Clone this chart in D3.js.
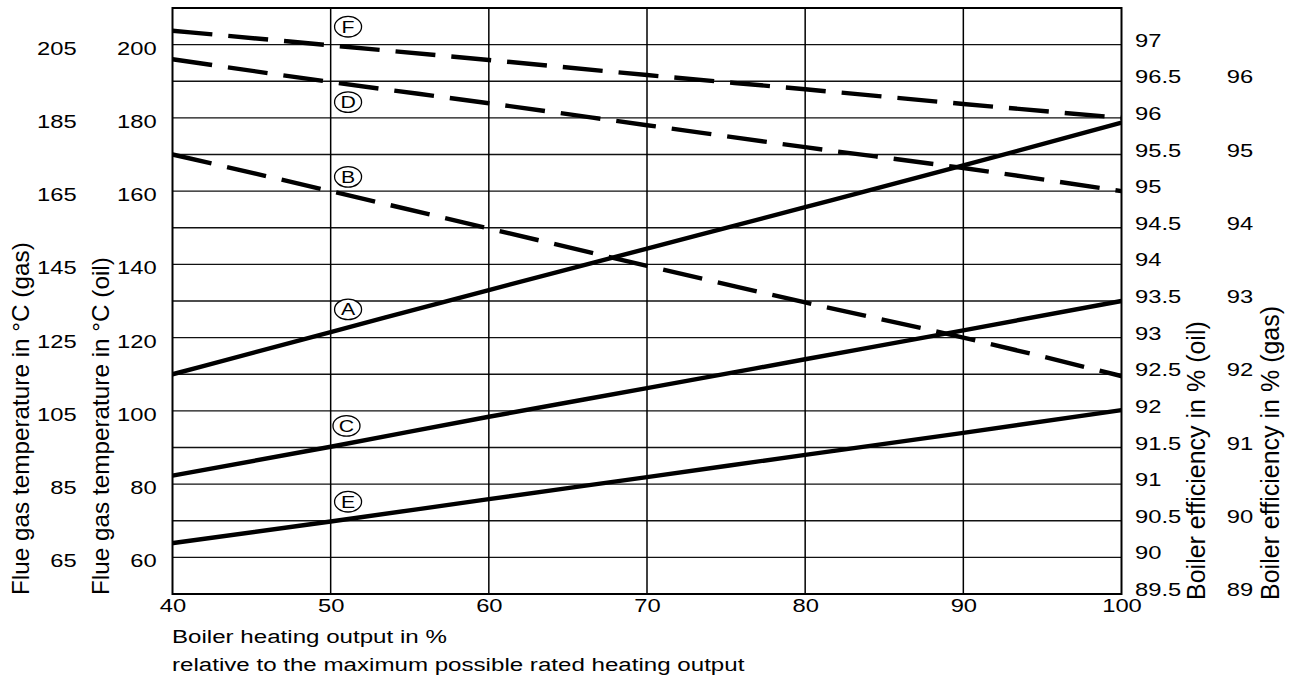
<!DOCTYPE html>
<html><head><meta charset="utf-8">
<script src="https://cdn.jsdelivr.net/npm/d3@7"></script>
<style>
body{margin:0;background:#fff}
svg{display:block}
text{font-family:"Liberation Sans",Arial,Helvetica,sans-serif;fill:#000}
</style>
</head><body>
<svg id="chart" width="1290" height="688"></svg>
<script>
// ---- data (flue gas temperature curves read in °C (oil) units) ----
const outputPct = [40, 50, 60, 70, 80, 90, 100];
const curveA = [110, 121.5, 133, 144.3, 155.6, 167, 178.7];
const curveB = [170, 160, 149.8, 139.6, 129.6, 120, 109.5];
const curveC = [82.3, 90.2, 98.4, 106.2, 114.1, 122, 130];
const curveD = [196, 189.8, 184, 178, 172, 166.3, 160];
const curveE = [63.9, 69.8, 75.9, 81.9, 88, 94, 100.2];
const curveF = [203.8, 199.8, 195.8, 191.7, 187.8, 183.8, 180];
const curveNames = ["A", "B", "C", "D", "E", "F"];

// curve marker letters and their anchor (output %, °C oil)
const markerNames = ["F", "D", "B", "A", "C", "E"];
const markerX = [51.1, 51.1, 51.1, 51.1, 51.0, 51.1];
const markerY = [204.9, 184.3, 163.9, 127.7, 95.9, 75.2];

// tick labels
const xTicks = [40, 50, 60, 70, 80, 90, 100];
const gasTempTicks = [65, 85, 105, 125, 145, 165, 185, 205];
const oilTempTicks = [60, 80, 100, 120, 140, 160, 180, 200];
const oilEffTicks = [89.5, 90, 90.5, 91, 91.5, 92, 92.5, 93, 93.5, 94, 94.5, 95, 95.5, 96, 96.5, 97];
const gasEffTicks = [89, 90, 91, 92, 93, 94, 95, 96];
const gridOilTemp = [60, 70, 80, 90, 100, 110, 120, 130, 140, 150, 160, 170, 180, 190, 200];
const gridOutput = [50, 60, 70, 80, 90];

// ---- layout ----
const L = 172.5, R = 1121.5, T = 8, B = 594;
const SX = 1.25; // horizontal stretch of the lettering
const svg = d3.select("#chart");

const x = d3.scaleLinear().domain([40, 100]).range([L, R]);
const yOil = d3.scaleLinear().domain([50, 210]).range([B, T]);
const yGas = d3.scaleLinear().domain([55, 215]).range([B, T]);
const yEffOil = d3.scaleLinear().domain([89.5, 97.5]).range([B, T]);
const yEffGas = d3.scaleLinear().domain([89, 97]).range([B, T]);

// grid
svg.append("g").selectAll("line").data(gridOilTemp).join("line")
  .attr("x1", L).attr("x2", R)
  .attr("y1", d => yOil(d)).attr("y2", d => yOil(d))
  .attr("stroke", "#111").attr("stroke-width", 1.3);
svg.append("g").selectAll("line").data(gridOutput).join("line")
  .attr("y1", T).attr("y2", B)
  .attr("x1", d => x(d)).attr("x2", d => x(d))
  .attr("stroke", "#000").attr("stroke-width", 1.5);

// frame
svg.append("rect").attr("x", L).attr("y", T).attr("width", R - L).attr("height", B - T)
  .attr("fill", "none").attr("stroke", "#000").attr("stroke-width", 2);

// curves
const series = [curveA, curveB, curveC, curveD, curveE, curveF];
const line = d3.line().x((d, i) => x(outputPct[i])).y(d => yOil(d)).curve(d3.curveMonotoneX);
const dashed = new Set(["B", "D", "F"]);
svg.append("g").selectAll("path").data(series).join("path")
  .attr("d", d => line(d))
  .attr("fill", "none").attr("stroke", "#000").attr("stroke-width", 4.4)
  .attr("stroke-dasharray", (d, i) => dashed.has(curveNames[i]) ? "40,16" : null);

// markers
const mk = svg.append("g").selectAll("g").data(markerNames).join("g")
  .attr("transform", (d, i) => `translate(${x(markerX[i])},${yOil(markerY[i])})`);
mk.append("ellipse").attr("rx", 13.5).attr("ry", 10.3)
  .attr("fill", "#fff").attr("stroke", "#000").attr("stroke-width", 1.3);
mk.append("text").text(d => d)
  .attr("text-anchor", "middle").attr("y", 6).attr("font-size", 17)
  .attr("transform", `scale(${SX},1)`);

// axes
function fixAxis(g, anchor, yOff) {
  g.attr("font-size", 19).attr("font-family", null);
  g.select(".domain").remove();
  g.selectAll(".tick line").remove();
  g.selectAll(".tick text")
    .attr("x", 0).attr("y", yOff).attr("dy", null)
    .attr("text-anchor", anchor)
    .attr("transform", `scale(${SX},1)`);
}
const fmt = d => String(d);
svg.append("g").attr("transform", "translate(76.7,0)")
  .call(d3.axisLeft(yGas).tickValues(gasTempTicks).tickFormat(fmt))
  .call(g => fixAxis(g, "end", 9.5));
svg.append("g").attr("transform", "translate(156.7,0)")
  .call(d3.axisLeft(yOil).tickValues(oilTempTicks).tickFormat(fmt))
  .call(g => fixAxis(g, "end", 9.5));
svg.append("g").attr("transform", "translate(1135,0)")
  .call(d3.axisRight(yEffOil).tickValues(oilEffTicks).tickFormat(fmt))
  .call(g => fixAxis(g, "start", 1.5));
svg.append("g").attr("transform", "translate(1226.7,0)")
  .call(d3.axisRight(yEffGas).tickValues(gasEffTicks).tickFormat(fmt))
  .call(g => fixAxis(g, "start", 1.5));
svg.append("g").attr("transform", `translate(0,${B})`)
  .call(d3.axisBottom(x).tickValues(xTicks).tickFormat(fmt))
  .call(g => fixAxis(g, "middle", 18));

// titles
const vTitles = [
  {t: "Flue gas temperature in °C (gas)", x: 28.5, y: 595, s: 24.3},
  {t: "Flue gas temperature in °C (oil)", x: 108.5, y: 595, s: 24.3},
  {t: "Boiler efficiency in % (oil)", x: 1205, y: 600, s: 25},
  {t: "Boiler efficiency in % (gas)", x: 1279, y: 600, s: 25}
];
svg.append("g").selectAll("text").data(vTitles).join("text")
  .attr("transform", d => `translate(${d.x},${d.y}) rotate(-90)`)
  .attr("font-size", d => d.s).text(d => d.t);

const xTitle = ["Boiler heating output in %", "relative to the maximum possible rated heating output"];
svg.append("g").selectAll("text").data(xTitle).join("text")
  .attr("transform", (d, i) => `translate(172,${643 + i * 28}) scale(1.27,1)`)
  .attr("font-size", 19).text(d => d);
</script>
</body></html>
